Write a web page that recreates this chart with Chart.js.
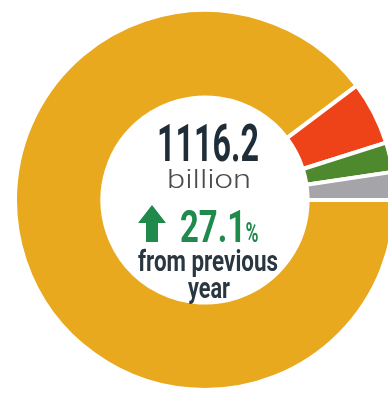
<!DOCTYPE html>
<html>
<head>
<meta charset="utf-8">
<script src="https://cdn.jsdelivr.net/npm/chart.js@4"></script>
<style>
    html, body { margin: 0; padding: 0; background: #fff; overflow: hidden; width: 388px; height: 393px; }
    #wrap { position: absolute; left: 13px; top: 8px; width: 384px; height: 384px; }
</style>
</head>
<body>
<div id="wrap"><canvas id="chart" width="384" height="384"></canvas></div>
<script>
// shares of the total, clockwise from 3 o'clock //
const segments = ['Segment 1', 'Segment 2', 'Segment 3', 'Segment 4'];
const amounts = [1001.4, 60.3, 28.1, 26.4];
const segmentColors = ['#E9A91F', '#EE4218', '#4E8A2D', '#A4A4A9'];

const unitLabel = 'billion';
const changePct = 27.1;
const changeText = ['from previous', 'year'];

const total = amounts.reduce((a, b) => a + b, 0);

// draws a line of text squeezed to a given width (condensed look) //
function fitText(ctx, text, cx, baseline, font, color, width) {
    ctx.save();
    ctx.font = font;
    ctx.fillStyle = color;
    ctx.textAlign = 'left';
    ctx.textBaseline = 'alphabetic';
    const w = ctx.measureText(text).width;
    const sx = width / w;
    ctx.translate(cx - width / 2, baseline);
    ctx.scale(sx, 1);
    ctx.fillText(text, 0, 0);
    ctx.restore();
}

const centerText = {
    id: 'centerText',
    afterDraw(c) {
        const ctx = c.ctx;
        const arc = c.getDatasetMeta(0).data[0];
        // page coords -> canvas coords
        const ox = arc.x - 192, oy = arc.y - 192;
        const px = (x) => x - 13 + ox;
        const py = (y) => y - 8 + oy;

        fitText(ctx, total.toFixed(1), px(208), py(161), 'bold 52px Roboto', '#1E2D38', 102);
        fitText(ctx, unitLabel, px(209), py(188), '300 25px Roboto', '#4B4B4B', 84);

        // green up arrow
        ctx.save();
        ctx.fillStyle = '#1F8A4B';
        ctx.beginPath();
        ctx.moveTo(px(152), py(205));
        ctx.lineTo(px(166), py(223));
        ctx.lineTo(px(158), py(223));
        ctx.lineTo(px(158), py(242));
        ctx.lineTo(px(146), py(242));
        ctx.lineTo(px(146), py(223));
        ctx.lineTo(px(138), py(223));
        ctx.closePath();
        ctx.fill();
        ctx.restore();

        fitText(ctx, changePct.toFixed(1), px(213), py(242), 'bold 45px Roboto', '#1F8A4B', 66);
        fitText(ctx, '%', px(252), py(242), 'bold 28px Roboto', '#1F8A4B', 13);

        fitText(ctx, changeText[0], px(208), py(271), 'bold 29px Roboto', '#2B3740', 140);
        fitText(ctx, changeText[1], px(209), py(298), 'bold 29px Roboto', '#2B3740', 42);
    }
};

const chart = document.querySelector('#chart').getContext('2d');

new Chart(chart, {
    type: 'doughnut',
    data: {
        labels: segments,
        datasets: [
            {
                data: amounts,
                backgroundColor: segmentColors,
                borderColor: '#ffffff',
                borderWidth: 4,
                hoverOffset: 0
            }
        ]
    },
    options: {
        responsive: false,
        animation: false,
        rotation: 90,
        cutout: '54%',
        layout: { padding: 0 },
        plugins: {
            legend: { display: false },
            tooltip: { enabled: false }
        }
    },
    plugins: [centerText]
});
</script>
</body>
</html>
